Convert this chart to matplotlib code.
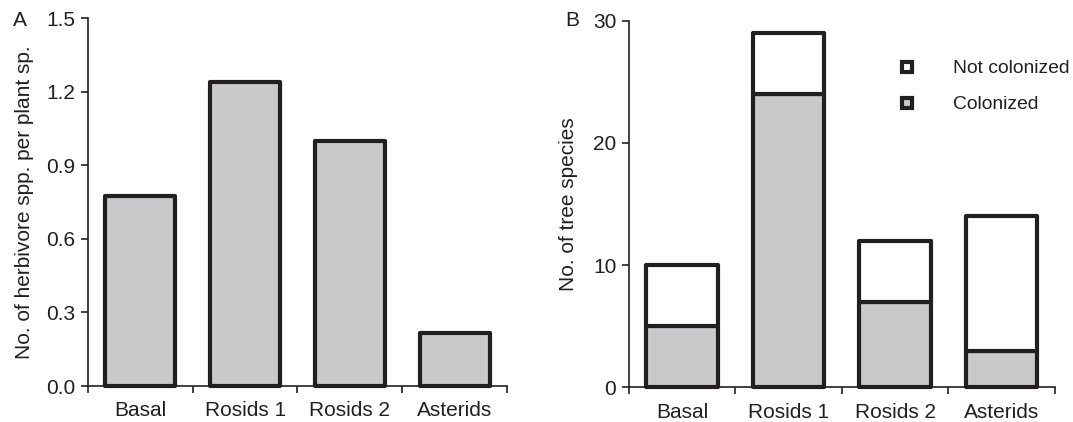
import matplotlib
matplotlib.use("Agg")
import matplotlib.pyplot as plt
from matplotlib.lines import Line2D
import numpy as np

plt.rcParams['font.family'] = ['Liberation Sans', 'DejaVu Sans']

categories = ["Basal", "Rosids 1", "Rosids 2", "Asterids"]
herbivores_per_plant = [0.776, 1.24, 1.0, 0.215]
colonized = [5, 24, 7, 3]
not_colonized = [5, 5, 5, 11]

EDGE = "#231f20"
GRAY = "#c8c9cb"
FS = 15
LW_BAR = 3.0
LW_AX = 1.2

fig = plt.figure(figsize=(10.73, 4.22), dpi=100)
axA = fig.add_axes([0.082, 0.0853, 0.3905, 0.8718])
axB = fig.add_axes([0.586, 0.0822, 0.397, 0.8688])

x = np.arange(len(categories))
w = 0.67


def style(ax, ymax):
    for s in ["top", "right"]:
        ax.spines[s].set_visible(False)
    for s in ["left", "bottom"]:
        ax.spines[s].set_linewidth(LW_AX)
        ax.spines[s].set_color(EDGE)
    ax.set_xlim(-0.5, len(categories) - 0.5)
    ax.set_ylim(0, ymax)
    ax.set_xticks(x)
    ax.set_xticklabels(categories, fontsize=FS, color=EDGE)
    ax.set_xticks(np.arange(len(categories) + 1) - 0.5, minor=True)
    ax.tick_params(axis='x', which='major', length=0, pad=11)
    ax.tick_params(axis='x', which='minor', length=5, width=LW_AX, color=EDGE, direction='out')
    ax.tick_params(axis='y', length=5, width=LW_AX, color=EDGE, labelsize=FS, labelcolor=EDGE, pad=4)


# Panel A
axA.bar(x, herbivores_per_plant, width=w, color=GRAY, edgecolor=EDGE,
        linewidth=LW_BAR, joinstyle='round', zorder=3, clip_on=False)
style(axA, 1.5)
axA.set_yticks([0.0, 0.3, 0.6, 0.9, 1.2, 1.5])
axA.set_yticklabels(["0.0", "0.3", "0.6", "0.9", "1.2", "1.5"])
axA.set_ylabel("No. of herbivore spp. per plant sp.", fontsize=FS, color=EDGE, labelpad=9)
fig.text(0.0186, 0.952, "A", fontsize=FS, color=EDGE, ha='center', va='center')

# Panel B
axB.bar(x, colonized, width=w, color=GRAY, edgecolor=EDGE,
        linewidth=LW_BAR, joinstyle='round', zorder=3, clip_on=False)
axB.bar(x, not_colonized, bottom=colonized, width=w, color="white", edgecolor=EDGE,
        linewidth=LW_BAR, joinstyle='round', zorder=3, clip_on=False)
style(axB, 30)
axB.set_yticks([0, 10, 20, 30])
axB.set_ylabel("No. of tree species", fontsize=FS, color=EDGE, labelpad=11)
fig.text(0.533, 0.952, "B", fontsize=FS, color=EDGE, ha='center', va='center')

handles = [
    Line2D([], [], linestyle='none', marker='s', markersize=7, markerfacecolor='white',
           markeredgecolor=EDGE, markeredgewidth=3),
    Line2D([], [], linestyle='none', marker='s', markersize=7, markerfacecolor=GRAY,
           markeredgecolor=EDGE, markeredgewidth=3),
]
LFS = 13.9
axB.legend(handles, ["Not colonized", "Colonized"], loc='upper left',
           bbox_to_anchor=(0.63, 0.893), frameon=False, fontsize=LFS,
           borderpad=0, borderaxespad=0,
           handlelength=1.0, handletextpad=1.87, labelspacing=0.95,
           labelcolor=EDGE)

fig.savefig("out.png", dpi=100)
